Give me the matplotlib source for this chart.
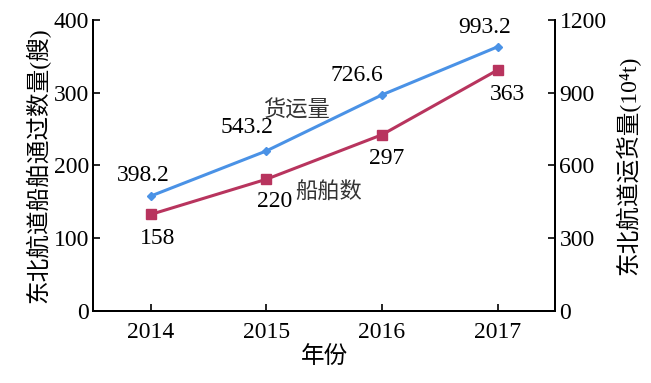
import matplotlib
matplotlib.use("Agg")
import matplotlib.pyplot as plt

plt.rcParams['font.family'] = ['Liberation Serif', 'Noto Sans CJK SC', 'DejaVu Sans']

years = [2014, 2015, 2016, 2017]
ships = [158, 220, 297, 363]            # left axis (艘)
cargo = [398.2, 543.2, 726.6, 993.2]    # right axis (10^4 t)

# annotation texts as in the original figure (placed in left-axis units)
top_labels = ["398.2", "543.2", "726.6", "993.2"]
top_pos = [(2013.93, 186), (2014.83, 252), (2015.78, 324), (2016.89, 390)]
low_labels = ["158", "220", "297", "363"]
low_pos = [(2014.06, 100), (2015.07, 150), (2016.04, 210), (2017.09, 297)]

blue = "#4a92e6"
red = "#b8345e"

fig = plt.figure(figsize=(6.51, 3.83), dpi=100)
ax = fig.add_axes([0.143, 0.188, 0.710, 0.760])
ax2 = ax.twinx()

ax.plot(years, ships, color=blue, lw=2.2, marker="D", ms=4.5, zorder=3)
ax2.plot(years, cargo, color=red, lw=2.2, marker="s", ms=7, zorder=3)

ax.set_xlim(2013.5, 2017.5)
ax.set_ylim(0, 400)
ax2.set_ylim(0, 1200)
ax.set_xticks(years)
ax.set_yticks([0, 100, 200, 300, 400])
ax2.set_yticks([0, 300, 600, 900, 1200])

for a in (ax, ax2):
    a.spines['top'].set_visible(False)
    for s in a.spines.values():
        s.set_linewidth(1.4)
    a.tick_params(direction='in', length=5, width=1.2, labelsize=17, pad=3)
ax.tick_params(axis='x', pad=8)

ax.set_xlabel("年份", fontsize=17, labelpad=2, fontweight='light')
ax.set_ylabel("东北航道船舶通过数量(艘)", fontsize=17, labelpad=2, fontweight='light')
ax2.set_ylabel("东北航道运货量(10⁴t)", fontsize=17, labelpad=6, fontweight='light')

for t, (x, y) in zip(top_labels, top_pos):
    ax.text(x, y, t, fontsize=17, ha='center', va='center')
for t, (x, y) in zip(low_labels, low_pos):
    ax.text(x, y, t, fontsize=17, ha='center', va='center')

ax.text(2015.26, 274, "货运量", fontsize=16, ha='center', va='center',
        color="#333333", fontweight='light')
ax.text(2015.54, 162, "船舶数", fontsize=16, ha='center', va='center',
        color="#333333", fontweight='light')

fig.savefig("out.png", dpi=100)
